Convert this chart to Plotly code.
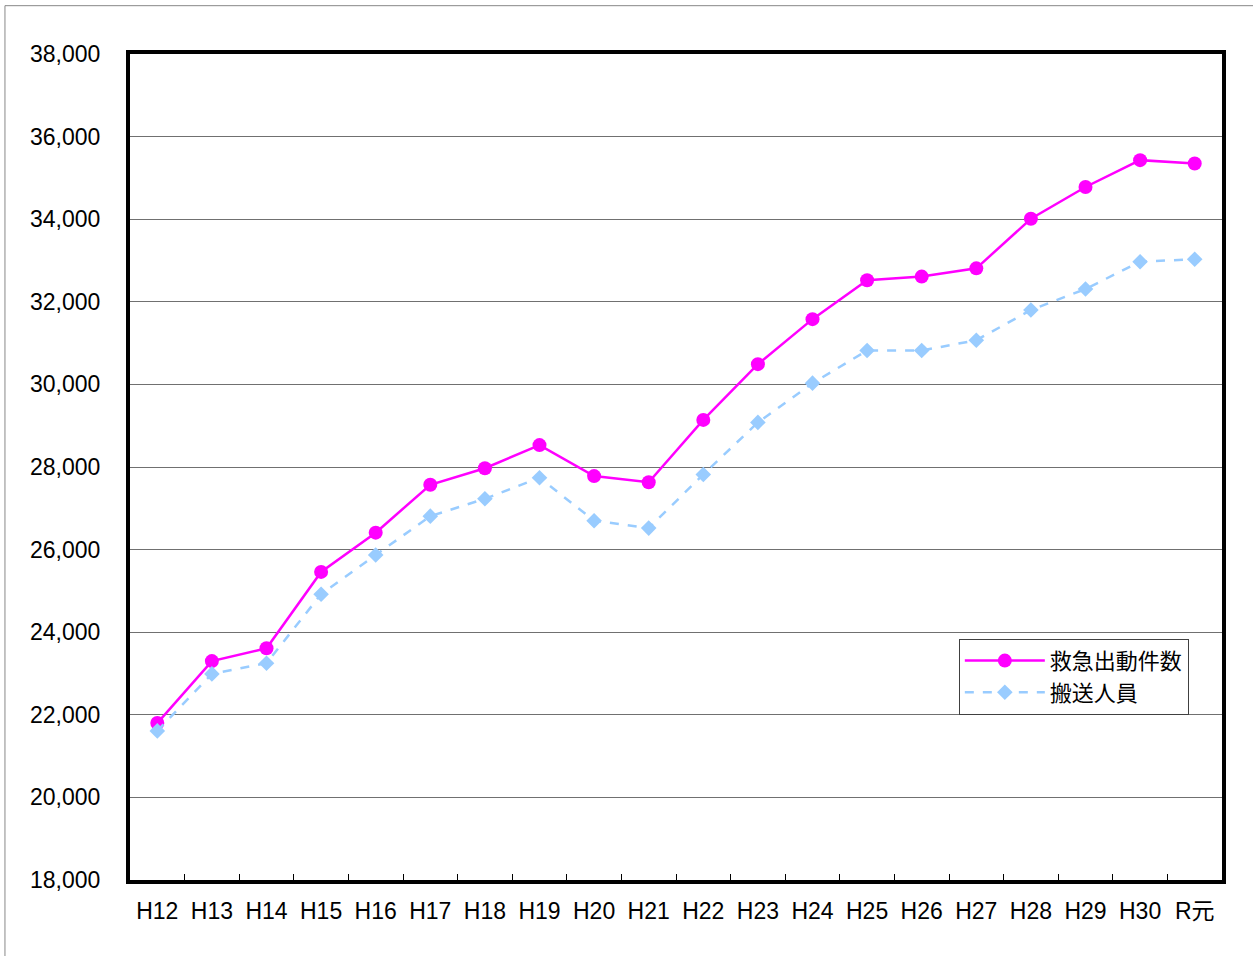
import plotly.graph_objects as go

categories = ["H12", "H13", "H14", "H15", "H16", "H17", "H18", "H19", "H20", "H21",
              "H22", "H23", "H24", "H25", "H26", "H27", "H28", "H29", "H30", "R元"]
dispatches = [21800, 23300, 23610, 25460, 26410, 27570, 27970, 28530, 27780, 27630,
              29140, 30490, 31580, 32520, 32610, 32810, 34010, 34780, 35430, 35350]
transported = [21610, 22990, 23250, 24920, 25870, 26810, 27230, 27740, 26700, 26520,
               27820, 29080, 30030, 30820, 30820, 31070, 31800, 32310, 32970, 33030]
y_ticks = [18000, 20000, 22000, 24000, 26000, 28000, 30000, 32000, 34000, 36000, 38000]
y_ticktext = [f"{v:,}" for v in y_ticks]

FONT = "Liberation Sans, Arial, Noto Sans CJK JP, sans-serif"

fig = go.Figure()
fig.add_trace(go.Scatter(
    x=categories, y=dispatches, name="救急出動件数", mode="lines+markers",
    line=dict(color="#FF00FF", width=2.5),
    marker=dict(symbol="circle", size=14, color="#FF00FF"),
))
fig.add_trace(go.Scatter(
    x=categories, y=transported, name="搬送人員", mode="lines+markers",
    line=dict(color="#99CCFF", width=2.5, dash="dash"),
    marker=dict(symbol="diamond", size=12, color="#99CCFF"),
))

fig.update_layout(
    width=1253, height=956,
    margin=dict(l=130, r=31, t=54, b=76),
    paper_bgcolor="white", plot_bgcolor="white",
    font=dict(family=FONT, size=23, color="black"),
    showlegend=True,
    legend=dict(
        x=0.759, y=0.292, xanchor="left", yanchor="top",
        bgcolor="white", bordercolor="#404040", borderwidth=1,
        font=dict(family=FONT, size=22, color="black"),
        itemwidth=80, tracegroupgap=0,
    ),
    xaxis=dict(
        type="category", showline=True, linecolor="black", linewidth=4, mirror=True,
        showgrid=False, ticks="inside", tickson="boundaries", ticklen=6,
        tickcolor="black", tickwidth=1, ticklabelstandoff=7,
        tickfont=dict(family=FONT, size=23, color="black"),
        range=[-0.5, 19.5], zeroline=False,
    ),
    yaxis=dict(
        range=[18000, 38000], tickvals=y_ticks, ticktext=y_ticktext,
        showline=True, linecolor="black", linewidth=4, mirror=True,
        showgrid=True, gridcolor="#707070", gridwidth=1, zeroline=False,
        ticks="", ticklabelstandoff=21,
        tickfont=dict(family=FONT, size=23, color="black"),
    ),
    shapes=[dict(
        type="rect", xref="paper", yref="paper",
        x0=-0.1145, x1=1.04, y0=-0.11, y1=1.0585,
        line=dict(color="#888888", width=1), fillcolor="rgba(0,0,0,0)", layer="below",
    )],
)

fig.write_html(
    "out.html",
    config={"displayModeBar": False},
    post_script="document.body.style.margin='0';document.body.style.overflow='hidden';",
)
